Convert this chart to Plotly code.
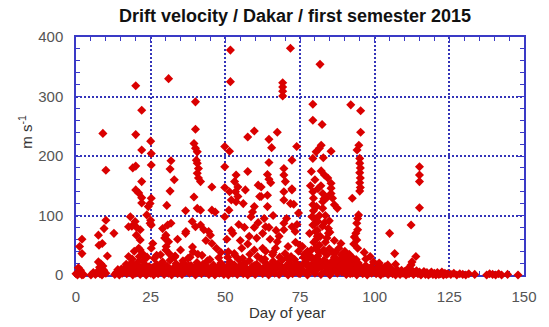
import plotly.graph_objects as go

# Drift velocity readings (day of year, m/s), first semester 2015, Dakar.
# Each block is split into the scattered upper readings and the near-ground band.

# --- days 0-25 ---
day_a_hi = [
    20, 22, 9, 20, 22, 10, 19, 20, 22, 20,
    21, 22, 22, 24.2, 10, 9.4, 18.2, 17.6, 18.7, 20.3,
    12.7, 7.5, 8.8, 2, 1.2, 2, 20.2, 21.5, 10.5, 17.6,
    8.3, 7.9, 7.7, 19.8, 21.5, 21.5, 24.8, 23.7, 21, 22.5,
]
vel_a_hi = [
    318, 277, 238, 236, 210, 176, 180, 183, 157, 143,
    138, 130, 121, 115, 92, 78, 98, 81, 82, 80,
    70, 67, 53, 60, 48, 36, 67, 59, 32, 31,
    19, 13, 50, 90, 76, 42, 87, 101, 45, 35,
]
day_a_lo = [
    0, 0.5, 1, 1.5, 2.5, 0.8, 5, 5.8, 6.5, 7.2,
    8, 8.7, 9.3, 10, 7.5, 9, 13, 13.5, 14.5, 15.5,
    16.2, 17, 17.5, 18, 18.5, 19, 19.5, 20, 20.5, 21,
    21.5, 22, 22.5, 23, 23.5, 24, 24.5, 16.8, 18.8, 20.8,
    22.8, 19.5, 23.8, 21.2, 17.8, 2, 14,
]
vel_a_lo = [
    2, 0, 3, 8, 1, 12, 0, 4, 1, 6,
    2, 0, 8, 3, 22, 15, 1, 4, 0, 3,
    7, 2, 12, 5, 20, 0, 9, 3, 15, 6,
    1, 11, 24, 4, 0, 8, 14, 18, 27, 22,
    17, 40, 30, 31, 10, 0, 9,
]

# --- days 25-50 ---
day_b_hi = [
    31, 40, 40, 25, 39.5, 40, 40.6, 25.2, 40.3, 40.6,
    41, 40.6, 41, 31.8, 25.2, 31.5, 32.9, 31.5, 41.7, 45.5,
    39.5, 25.2, 24.8, 30.4, 36.7, 40.6, 41.7, 45.5, 46.6, 25,
    25.2, 29, 30.7, 31.8, 30.1, 31, 38.9, 40, 41.7, 42.8,
    44.4, 45, 36.7, 45.5, 25.7, 25.2, 30.1, 31.2, 34, 36.8,
    29.7, 30.2, 39, 39.2, 43.5, 47, 48.5, 33, 35, 27,
]
vel_b_hi = [
    330, 291, 245, 225, 221, 213, 207, 204, 193, 188,
    179, 171, 163, 192, 185, 178, 160, 141, 157, 148,
    131, 129, 120, 117, 108, 112, 109, 109, 106, 92,
    84, 78, 84, 87, 67, 56, 90, 81, 84, 76,
    73, 67, 70, 53, 53, 45, 42, 36, 60, 73,
    62, 48, 47, 39, 58, 45, 38, 30, 42, 33,
]
day_b_lo = [
    25, 25.5, 26, 26.5, 27, 27.5, 28, 28.5, 29, 29.5,
    30, 30.5, 31, 31.5, 32, 32.5, 33, 33.5, 34, 34.5,
    35, 35.5, 36, 36.5, 37, 37.5, 38, 38.5, 39, 39.5,
    40, 40.5, 41, 41.5, 42, 42.5, 43, 43.5, 44, 44.5,
    45, 45.5, 46, 46.5, 47, 47.5, 48, 48.5, 49, 49.5,
    26.2, 28.3, 33.2, 35.8, 38.2, 42.2, 44.8, 47.8, 31.2, 40.8,
]
vel_b_lo = [
    3, 12, 0, 7, 18, 2, 10, 5, 22, 1,
    8, 15, 3, 25, 0, 11, 6, 19, 2, 9,
    14, 1, 20, 5, 10, 28, 3, 16, 7, 12,
    0, 21, 6, 13, 2, 18, 9, 4, 24, 1,
    11, 6, 17, 0, 8, 13, 3, 20, 7, 1,
    28, 34, 32, 24, 30, 33, 26, 29, 9, 35,
]

# --- days 50-75 ---
day_c_hi = [
    51.7, 71.8, 51.7, 69.2, 69.2, 69.2, 69.2, 59.7, 57.5, 67.4,
    64.6, 65.5, 49.8, 51.4, 73.9, 72.3, 64.6, 49.8, 57.5, 69.6,
    53.6, 53.1, 54.2, 64.1, 64.6, 65.2, 69.6, 70.1, 72.3, 49.8,
    51.4, 53.4, 54.2, 56.7, 62, 62, 64.1, 69.6, 72.3, 52,
    53.6, 56, 69.6, 71.8, 72.9, 51.2, 59.7, 59.1, 58.6, 64.1,
    49.8, 74.5, 56.4, 59.7, 63.5, 64.6, 69.6, 69.6, 72.3, 73.4,
    67.4, 66.8, 57.5, 59.7, 75, 51, 53, 66, 70, 72,
    61, 61.5, 63, 66, 55, 60.5, 62.5, 68, 73.5, 52.5,
    50.5, 52, 54.5, 58, 61, 62.5, 65, 67, 70.5, 74,
    55.5, 63.5, 71, 74.5,
]
vel_c_hi = [
    378, 381, 325, 323, 316, 309, 301, 242, 232, 240,
    228, 214, 216, 208, 216, 193, 189, 182, 174, 179,
    168, 157, 148, 169, 161, 155, 168, 157, 145, 147,
    140, 140, 132, 143, 148, 132, 134, 140, 143, 126,
    123, 120, 126, 120, 119, 109, 115, 106, 98, 115,
    98, 104, 80, 80, 81, 80, 87, 76, 81, 73,
    56, 45, 52, 42, 50, 39, 36, 38, 36, 31,
    151, 132, 95, 100, 58, 62, 45, 65, 55, 70,
    60, 75, 85, 65, 88, 70, 60, 75, 95, 85,
    45, 40, 48, 40,
]
day_c_lo = [
    50, 50.5, 51, 51.5, 52, 52.5, 53, 53.5, 54, 54.5,
    55, 55.5, 56, 56.5, 57, 57.5, 58, 58.5, 59, 59.5,
    60, 60.5, 61, 61.5, 62, 62.5, 63, 63.5, 64, 64.5,
    65, 65.5, 66, 66.5, 67, 67.5, 68, 68.5, 69, 69.5,
    70, 70.5, 71, 71.5, 72, 72.5, 73, 73.5, 74, 74.5,
    50.8, 53.2, 55.8, 58.2, 60.8, 63.2, 65.8, 68.2, 70.8, 73.2,
]
vel_c_lo = [
    5, 14, 0, 22, 8, 3, 17, 10, 1, 26,
    6, 12, 2, 19, 9, 0, 24, 4, 14, 7,
    1, 18, 11, 5, 27, 2, 13, 20, 8, 0,
    15, 6, 23, 3, 10, 18, 1, 12, 25, 7,
    4, 16, 0, 21, 9, 2, 14, 6, 19, 3,
    30, 33, 28, 35, 31, 27, 34, 30, 29, 26,
]

# --- days 75-100 ---
day_d_hi = [
    81.7, 79.3, 92, 95.3, 79.3, 82.4, 95.3, 94.7, 94.1, 82.1,
    81.5, 80.4, 85.4, 79.3, 82.8, 95, 95, 95.2, 95, 95.2,
    95, 95.2, 95, 78.8, 82.1, 83.2, 84.3, 85.4, 85.4, 85.4,
    85.9, 86.5, 87.5, 92.5, 82.6, 79.3, 79.5, 79.3, 79.5, 79,
    80, 79.3, 80.2, 82.6, 82.6, 94.6, 94.3, 94, 94.3, 93.7,
    93.2, 94, 94.3, 84.8, 84.5, 84.5, 88.7, 75.8, 89.2, 98.5,
    99.6, 80.5, 81.5, 83, 86, 88, 90, 91.5, 93, 96.5,
    78, 77.5, 81, 83.5, 87, 89.5, 92, 97, 76.5, 80.8,
    78.5, 80, 81, 82, 83, 84, 80.5, 81.5, 83.5, 79.8,
    81, 82.5, 78.2, 80.8, 83.2, 79.6, 81.8, 84, 85, 86.5,
]
vel_d_hi = [
    354, 287, 286, 276, 260, 253, 240, 218, 210, 218,
    213, 207, 208, 196, 197, 196, 188, 180, 172, 163,
    155, 147, 141, 174, 175, 168, 163, 154, 146, 137,
    129, 118, 112, 129, 137, 140, 129, 118, 108, 98,
    95, 84, 73, 123, 112, 101, 95, 87, 76, 70,
    64, 59, 45, 91, 78, 70, 53, 48, 34, 31,
    22, 60, 50, 42, 38, 45, 40, 35, 52, 38,
    30, 40, 32, 55, 28, 25, 30, 27, 35, 65,
    150, 160, 145, 150, 128, 130, 115, 100, 100, 85,
    90, 82, 70, 75, 88, 55, 65, 62, 72, 58,
]
day_d_lo = [
    75, 75.5, 76, 76.5, 77, 77.5, 78, 78.5, 79, 79.5,
    80, 80.5, 81, 81.5, 82, 82.5, 83, 83.5, 84, 84.5,
    85, 85.5, 86, 86.5, 87, 87.5, 88, 88.5, 89, 89.5,
    90, 90.5, 91, 91.5, 92, 92.5, 93, 93.5, 94, 94.5,
    95, 95.5, 96, 96.5, 97, 97.5, 98, 98.5, 99, 99.5,
    76.2, 78.8, 80.2, 82.8, 84.8, 86.8, 88.8, 90.8, 92.8, 79.8,
    81.2, 83.8, 85.8, 87.8, 89.8, 91.8, 77.8, 93.8,
]
vel_d_lo = [
    2, 10, 18, 5, 24, 0, 13, 32, 7, 20,
    3, 28, 11, 38, 1, 16, 25, 6, 34, 12,
    0, 22, 8, 30, 15, 3, 19, 26, 5, 11,
    21, 1, 14, 7, 24, 3, 17, 10, 0, 20,
    6, 13, 2, 9, 16, 0, 5, 11, 3, 7,
    30, 42, 45, 40, 44, 38, 34, 30, 28, 12,
    20, 15, 5, 23, 13, 2, 8, 26,
]

# --- days 100-150 ---
day_e_hi = [115, 115, 115, 115, 112.2, 105, 106.7, 113.8, 112.2, 101.4, 104.4, 101.5, 107, 112.5]
vel_e_hi = [182, 168, 157, 113, 84, 70, 36, 31, 17, 17, 17, 20, 18, 22]
day_e_lo = [
    100, 100.5, 101, 101.5, 102, 102.5, 103, 103.5, 104, 104.5,
    105, 105.5, 106, 106.5, 107, 107.5, 108, 108.5, 109, 109.5,
    110, 110.5, 111, 111.5, 112, 112.5, 113, 113.5, 114, 114.5,
    115, 115.5, 116, 116.5, 117, 117.5, 118, 118.5, 119, 119.5,
    120, 120.5, 121, 121.5, 122, 122.5, 123, 123.5, 124, 124.5,
    125.5, 126.5, 127.5, 128.5, 129.5, 130.5, 131.5, 133.5, 137.5, 138.5,
    139.5, 140.5, 141.5, 142.5, 144.5, 148,
]
vel_e_lo = [
    8, 2, 12, 5, 0, 9, 3, 14, 6, 1,
    7, 11, 2, 5, 0, 9, 4, 1, 8, 3,
    6, 0, 10, 2, 5, 8, 1, 4, 7, 2,
    5, 0, 3, 6, 1, 4, 0, 2, 5, 1,
    3, 0, 4, 1, 2, 5, 0, 3, 1, 2,
    1, 3, 0, 2, 1, 0, 2, 1, 0, 2,
    1, 0, 2, 0, 1, 0,
]

# --- extra near-ground readings, days 15-100 ---
day_fill = [
    15.2, 16.7, 18.2, 19.7, 21.7, 23.2, 24.7, 26.7, 27.7, 29.2,
    30.7, 32.2, 33.7, 35.2, 36.2, 37.7, 39.2, 40.2, 41.7, 43.2,
    44.2, 45.7, 47.2, 48.2, 49.7, 51.2, 52.7, 54.2, 55.2, 56.7,
    58.7, 59.7, 61.2, 62.7, 64.2, 65.2, 66.7, 68.7, 69.7, 71.2,
    72.7, 74.2, 75.7, 77.2, 78.2, 79.2, 80.7, 81.7, 82.2, 83.2,
    84.2, 85.2, 86.2, 87.2, 88.2, 89.2, 90.2, 91.2, 92.2, 93.2,
    94.2, 95.2, 96.7, 97.7, 98.7,
]
vel_fill = [
    10, 14, 9, 16, 12, 17, 6, 14, 11, 16,
    12, 9, 15, 13, 8, 16, 11, 14, 9, 15,
    12, 14, 10, 16, 13, 11, 15, 12, 17, 13,
    10, 16, 14, 9, 15, 12, 16, 14, 11, 17,
    13, 10, 16, 19, 14, 27, 18, 22, 13, 17,
    20, 14, 18, 10, 14, 18, 12, 16, 11, 13,
    15, 10, 12, 9, 13,
]

blocks = [
    (day_a_hi, vel_a_hi), (day_a_lo, vel_a_lo),
    (day_b_hi, vel_b_hi), (day_b_lo, vel_b_lo),
    (day_c_hi, vel_c_hi), (day_c_lo, vel_c_lo),
    (day_d_hi, vel_d_hi), (day_d_lo, vel_d_lo),
    (day_e_hi, vel_e_hi), (day_e_lo, vel_e_lo),
    (day_fill, vel_fill),
]
days, vels = [], []
for d, v in blocks:
    assert len(d) == len(v), (len(d), len(v))
    days += d
    vels += v

BLUE = "#3a3ac6"
GRID = "#3434b8"
FONT = "Liberation Sans, Arial, sans-serif"
TICKFONT = dict(family=FONT, size=15, color="#555555")

fig = go.Figure(
    go.Scatter(
        x=days, y=vels, mode="markers",
        marker=dict(symbol="diamond", size=7, color="#da0000", line=dict(width=0)),
        cliponaxis=False, hoverinfo="skip", showlegend=False,
    )
)

axis_common = dict(
    showgrid=True, gridcolor=GRID, gridwidth=1.5, griddash="2px,2px",
    showline=True, linecolor=BLUE, linewidth=1.5, mirror="ticks",
    ticks="inside", ticklen=6, tickcolor=BLUE, tickwidth=1,
    zeroline=False, layer="below traces", tickfont=TICKFONT,
)

fig.update_xaxes(range=[0, 150], tick0=0, dtick=25, ticklabelstandoff=7,
                 minor=dict(tick0=0, dtick=5, ticks="inside", ticklen=4,
                            tickcolor=BLUE, showgrid=False),
                 **axis_common)
fig.update_yaxes(range=[0, 400], tick0=0, dtick=100, ticklabelstandoff=8,
                 minor=dict(tick0=0, dtick=20, ticks="inside", ticklen=4,
                            tickcolor=BLUE, showgrid=False),
                 **axis_common)

fig.update_layout(
    width=549, height=327,
    margin=dict(l=76, r=19, t=37, b=52),
    paper_bgcolor="white", plot_bgcolor="white",
    title=dict(text="<b>Drift velocity / Dakar / first semester 2015</b>",
               font=dict(family=FONT, size=18, color="#111111"),
               xref="container", x=295 / 549, xanchor="center",
               yref="container", y=1 - 16 / 327, yanchor="middle"),
    annotations=[
        dict(text="Day of year", xref="paper", yref="paper",
             x=(290 - 76) / 454, y=(275 - 313) / 238, xanchor="center", yanchor="middle",
             showarrow=False, font=dict(family=FONT, size=15, color="#333333")),
        dict(text="m s<sup>-1</sup>", xref="paper", yref="paper",
             x=(24 - 76) / 454, y=(275 - 132) / 238, xanchor="center", yanchor="middle",
             textangle=-90, showarrow=False, font=dict(family=FONT, size=15, color="#333333")),
    ],
)

fig.write_html("out.html")
